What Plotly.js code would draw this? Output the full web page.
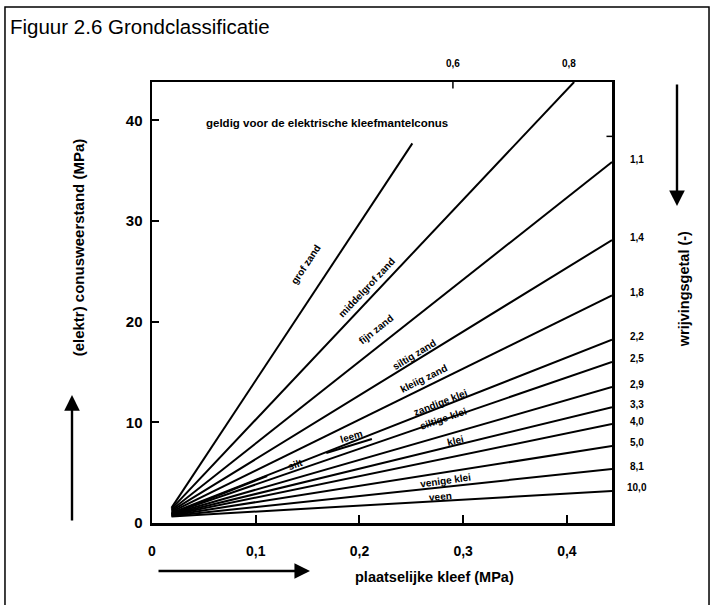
<!DOCTYPE html>
<html>
<head>
<meta charset="utf-8">
<script src="https://cdn.plot.ly/plotly-3.0.1.min.js"></script>
<style>html,body{margin:0;padding:0;background:#fff;}#chart{width:714px;height:605px;}</style>
</head>
<body>
<div id="chart"></div>
<script>
// ---- data ----
const ratioLabels = ['0,6','0,8','1,1','1,4','1,8','2,2','2,5','2,9','3,3','4,0','5,0','8,1','10,0'];
const startFs = [0.0188,0.0188,0.0188,0.0188,0.0188,0.0188,0.0188,0.0188,0.0188,0.0188,0.0188,0.0188,0.0188];
const startQc = [1.5,1.4,1.3,1.2,1.1,1.0,0.95,0.9,0.85,0.8,0.75,0.7,0.65];
const endFs   = [0.251,0.407,0.4435,0.4435,0.4435,0.4435,0.4435,0.4435,0.4435,0.4435,0.4435,0.4435,0.4435];
const endQc   = [37.7,43.8,35.85,28.1,22.6,18.2,16.0,13.5,11.5,9.83,7.65,5.36,3.18];
// short boundary segments (silt / leem)
const segFs0 = [0.0188, 0.168];
const segQc0 = [0.9, 6.95];
const segFs1 = [0.111, 0.212];
const segQc1 = [4.67, 8.34];
const soilNames = ['grof zand','middelgrof zand','fijn zand','siltig zand','kleiig zand','zandige klei','siltige klei','klei','leem','silt','venige klei','veen'];
const xTickVals = [0,0.1,0.2,0.3,0.4];
const xTickText = ['0','0,1','0,2','0,3','0,4'];
const yTickVals = [0,10,20,30,40];
const yTickText = ['0','10','20','30','40'];

// ---- layout helpers ----
const FONT = 'Liberation Sans, Arial, sans-serif';
const X_MAX = 0.4435, Y_MAX = 43.8;
const labelPlacement = [ // [fs, qc, angle]
  [0.148,25.7,-56.6],[0.207,23.4,-46.7],[0.216,19.2,-38.3],[0.253,16.7,-31.5],
  [0.262,14.4,-26.1],[0.278,12.0,-21.3],[0.281,10.4,-18.8],[0.293,8.2,-13],
  [0.192,8.6,-17],[0.138,5.8,-20],[0.283,4.2,-8],[0.278,2.6,-5]
];
const C = {xanchor:'center', yanchor:'middle'};

const traces = [];
for (let i = 0; i < ratioLabels.length; i++) {
  traces.push({x:[startFs[i], endFs[i]], y:[startQc[i], endQc[i]], mode:'lines',
    line:{color:'#000', width:2}, hoverinfo:'skip', showlegend:false});
}
for (let i = 0; i < segFs0.length; i++) {
  traces.push({x:[segFs0[i], segFs1[i]], y:[segQc0[i], segQc1[i]], mode:'lines',
    line:{color:'#000', width:2}, hoverinfo:'skip', showlegend:false});
}

const ann = [];
soilNames.forEach((s, i) => {
  const p = labelPlacement[i];
  ann.push(Object.assign({x:p[0], y:p[1], xref:'x', yref:'y', text:s, showarrow:false, textangle:p[2],
    font:{family:FONT, size:10, color:'#000', weight:'bold'}}, C));
});
for (let i = 2; i < ratioLabels.length; i++) {
  ann.push(Object.assign({x:1.054, xref:'paper', y:endQc[i], yref:'y', yshift:3, text:ratioLabels[i], showarrow:false,
    font:{family:FONT, size:10, color:'#000', weight:'bold'}}, C));
}
const topX = [0,1].map(i => startFs[i] + (Y_MAX - startQc[i]) * (endFs[i]-startFs[i]) / (endQc[i]-startQc[i]));
ann.push(Object.assign({x:topX[0], xref:'x', y:1, yref:'paper', yshift:19, text:ratioLabels[0], showarrow:false, font:{family:FONT, size:10, color:'#000', weight:'bold'}}, C));
ann.push(Object.assign({x:topX[1], xref:'x', xshift:-5, y:1, yref:'paper', yshift:19, text:ratioLabels[1], showarrow:false, font:{family:FONT, size:10, color:'#000', weight:'bold'}}, C));
ann.push(Object.assign({x:0.380, xref:'paper', y:39.7, yref:'y', text:'geldig voor de elektrische kleefmantelconus', showarrow:false,
  font:{family:FONT, size:11.5, color:'#000', weight:'bold'}}, C));
ann.push(Object.assign({x:-0.161, xref:'paper', y:0.625, yref:'paper', text:'(elektr) conusweerstand (MPa)', textangle:-90, showarrow:false,
  font:{family:FONT, size:15, color:'#000', weight:'bold'}}, C));
ann.push(Object.assign({x:1.1565, xref:'paper', y:0.53, yref:'paper', text:'wrijvingsgetal (-)', textangle:-90, showarrow:false,
  font:{family:FONT, size:14.5, color:'#000', weight:'bold'}}, C));
ann.push(Object.assign({x:0.614, xref:'paper', y:-0.122, yref:'paper', text:'plaatselijke kleef (MPa)', showarrow:false,
  font:{family:FONT, size:14.5, color:'#000', weight:'bold'}}, C));
const arrowStyle = {text:'', showarrow:true, arrowhead:2, arrowsize:1.3, arrowwidth:2.4, arrowcolor:'#000', xref:'paper', yref:'paper'};
ann.push(Object.assign({x:-0.1739, y:0.290, ax:0, ay:127}, arrowStyle));
ann.push(Object.assign({x:1.1413, y:0.7188, ax:0, ay:-123}, arrowStyle));
ann.push(Object.assign({x:0.3435, y:-0.1088, ax:-153, ay:0}, arrowStyle));

const shapes = [
  {type:'rect', xref:'paper', yref:'paper', x0:-0.3196, x1:1.2109, y0:-0.20, y1:1.170, line:{color:'#000', width:1.5}},
  {type:'line', xref:'x', yref:'paper', x0:topX[0], x1:topX[0], y0:1, y1:0.985, line:{color:'#000', width:1.5}},
  {type:'line', xref:'paper', yref:'y', x0:1, x1:0.988, y0:38.4, y1:38.4, line:{color:'#000', width:1.5}}
];

const layout = {
  width:714, height:605,
  margin:{l:152, r:102, t:82, b:82},
  paper_bgcolor:'#fff', plot_bgcolor:'#fff',
  showlegend:false,
  title:{text:'Figuur 2.6 Grondclassificatie', x:0.014, xanchor:'left', xref:'container', y:0.955, yanchor:'middle', yref:'container',
    font:{family:FONT, size:20.5, color:'#000'}},
  xaxis:{range:[0, X_MAX], tickvals:xTickVals, ticktext:xTickText, ticks:'inside', ticklen:8, tickwidth:2, tickcolor:'#000',
    showline:true, mirror:true, linecolor:'#000', linewidth:2.5, showgrid:false, zeroline:false, fixedrange:true,
    ticklabelstandoff:14, tickfont:{family:FONT, size:14, color:'#000', weight:'bold'}},
  yaxis:{range:[0, Y_MAX], tickvals:yTickVals, ticktext:yTickText, ticks:'inside', ticklen:7, tickwidth:2, tickcolor:'#000',
    showline:true, mirror:true, linecolor:'#000', linewidth:2.5, showgrid:false, zeroline:false, fixedrange:true,
    ticklabelstandoff:4, tickfont:{family:FONT, size:15, color:'#000', weight:'bold'}},
  annotations:ann,
  shapes:shapes
};

Plotly.newPlot('chart', traces, layout, {staticPlot:true, displayModeBar:false});
</script>
</body>
</html>
